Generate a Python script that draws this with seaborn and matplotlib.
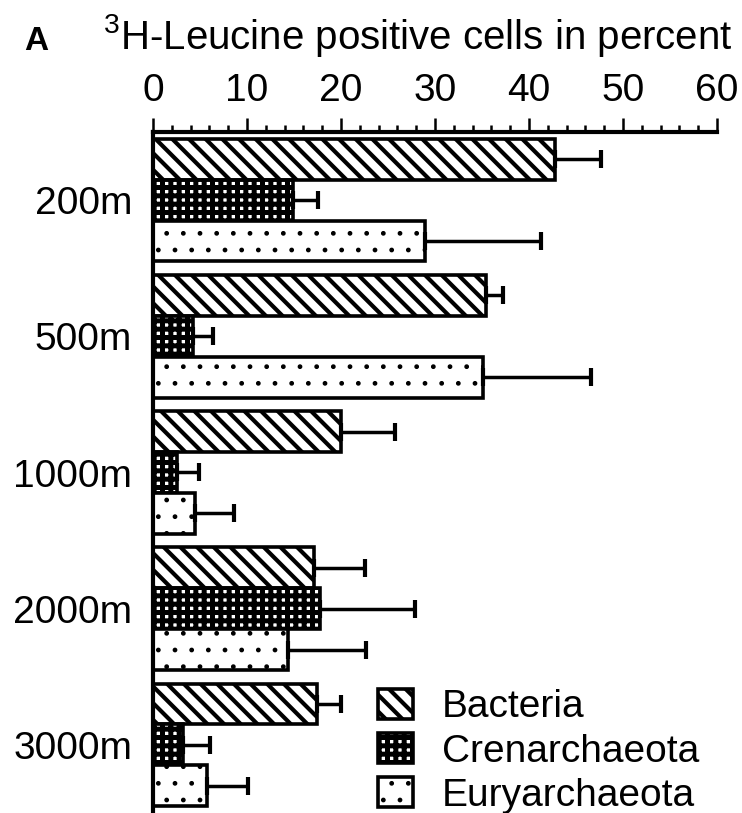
import numpy as np
import pandas as pd
import matplotlib as mpl
mpl.use("Agg")
import matplotlib.pyplot as plt
from matplotlib.patches import Patch
from matplotlib.ticker import MultipleLocator
import seaborn as sns

# Depth layers and organism groups
depths = ["200m", "500m", "1000m", "2000m", "3000m"]
groups = ["Bacteria", "Crenarchaeota", "Euryarchaeota"]

# 3H-Leucine positive cells (%) and the upper error for each group
bacteria = [42.8, 35.4, 20.0, 17.1, 17.4]
bacteria_err = [4.9, 1.8, 5.7, 5.5, 2.6]
crenarchaeota = [14.9, 4.3, 2.5, 17.8, 3.2]
crenarchaeota_err = [2.7, 2.1, 2.4, 10.1, 2.9]
euryarchaeota = [28.9, 35.1, 4.5, 14.4, 5.7]
euryarchaeota_err = [12.4, 11.5, 4.1, 8.3, 4.4]

x_ticks = [0, 10, 20, 30, 40, 50, 60]

values = {"Bacteria": bacteria, "Crenarchaeota": crenarchaeota,
          "Euryarchaeota": euryarchaeota}
errors = {"Bacteria": bacteria_err, "Crenarchaeota": crenarchaeota_err,
          "Euryarchaeota": euryarchaeota_err}
hatches = {"Bacteria": "\\\\", "Crenarchaeota": "++", "Euryarchaeota": "."}
hatch_lw = {"Bacteria": 3.0, "Crenarchaeota": 3.6, "Euryarchaeota": 1.0}

sns.set_theme(style="white")
plt.rcParams["font.family"] = ["Liberation Sans", "DejaVu Sans"]
plt.rcParams["hatch.linewidth"] = 3.0
plt.rcParams["hatch.color"] = "black"
plt.rcParams["text.color"] = "black"
plt.rcParams["xtick.color"] = "black"
plt.rcParams["ytick.color"] = "black"


def set_hatch_width(patch, lw):
    if hasattr(patch, "set_hatch_linewidth"):
        patch.set_hatch_linewidth(lw)


df = pd.DataFrame({
    "depth": depths * len(groups),
    "group": np.repeat(groups, len(depths)),
    "value": bacteria + crenarchaeota + euryarchaeota,
})

W, H = 742, 813
fig = plt.figure(figsize=(W / 100, H / 100), dpi=100)
ax = fig.add_axes([153 / W, 0.0, (717 - 153) / W, (H - 132) / H])

sns.barplot(data=df, x="value", y="depth", hue="group", order=depths,
            hue_order=groups, orient="h", width=0.9, errorbar=None,
            palette={g: "white" for g in groups}, saturation=1,
            edgecolor="black", linewidth=2.6, legend=False, ax=ax)

for g, cont in zip(groups, ax.containers):
    ys = []
    for p in cont:
        p.set_hatch(hatches[g])
        set_hatch_width(p, hatch_lw[g])
        ys.append(p.get_y() + p.get_height() / 2)
    err = np.asarray(errors[g])
    ax.errorbar(values[g], ys, xerr=[np.zeros_like(err), err], fmt="none",
                ecolor="black", elinewidth=2.5, capsize=6.5, capthick=3,
                zorder=1)

ax.set_xlim(0, 60)
ax.set_ylim(4.5, -0.5)
ax.set_xlabel("")
ax.set_ylabel("")
ax.xaxis.tick_top()
ax.set_xticks(x_ticks)
ax.xaxis.set_minor_locator(MultipleLocator(2))
ax.tick_params(axis="x", which="major", direction="out", length=10,
               width=1.8, labelsize=28, pad=6.5, top=True, bottom=False,
               labeltop=True, labelbottom=False, color="black",
               labelcolor="black")
ax.tick_params(axis="x", which="minor", direction="out", length=5,
               width=1.8, top=True, bottom=False, color="black")
ax.tick_params(axis="y", length=0, pad=15, labelsize=28, labelcolor="black")
for s in ["bottom", "right"]:
    ax.spines[s].set_visible(False)
for s in ["top", "left"]:
    ax.spines[s].set_linewidth(3)
    ax.spines[s].set_color("black")

fig.text(24 / W, 1 - 50 / H, "A", fontsize=24, fontweight="bold",
         va="baseline", ha="left", color="black")
fig.text(103 / W, 1 - 49 / H,
         r"$\mathregular{^3}$H-Leucine positive cells in percent",
         fontsize=29, va="baseline", ha="left", color="black")

handles = [Patch(facecolor="white", edgecolor="black", linewidth=2.6,
                 hatch=hatches[g]) for g in groups]
leg = ax.legend(handles, groups, loc="upper left",
                bbox_to_anchor=(378 / W, 1 - 689 / H),
                bbox_transform=fig.transFigure, frameon=False, fontsize=28,
                handlelength=0.9, handleheight=0.8, handletextpad=0.75,
                labelspacing=0.2, borderpad=0, borderaxespad=0)
for g, h in zip(groups, leg.legend_handles):
    set_hatch_width(h, hatch_lw[g])

fig.savefig("out.png", dpi=100, facecolor="white")
